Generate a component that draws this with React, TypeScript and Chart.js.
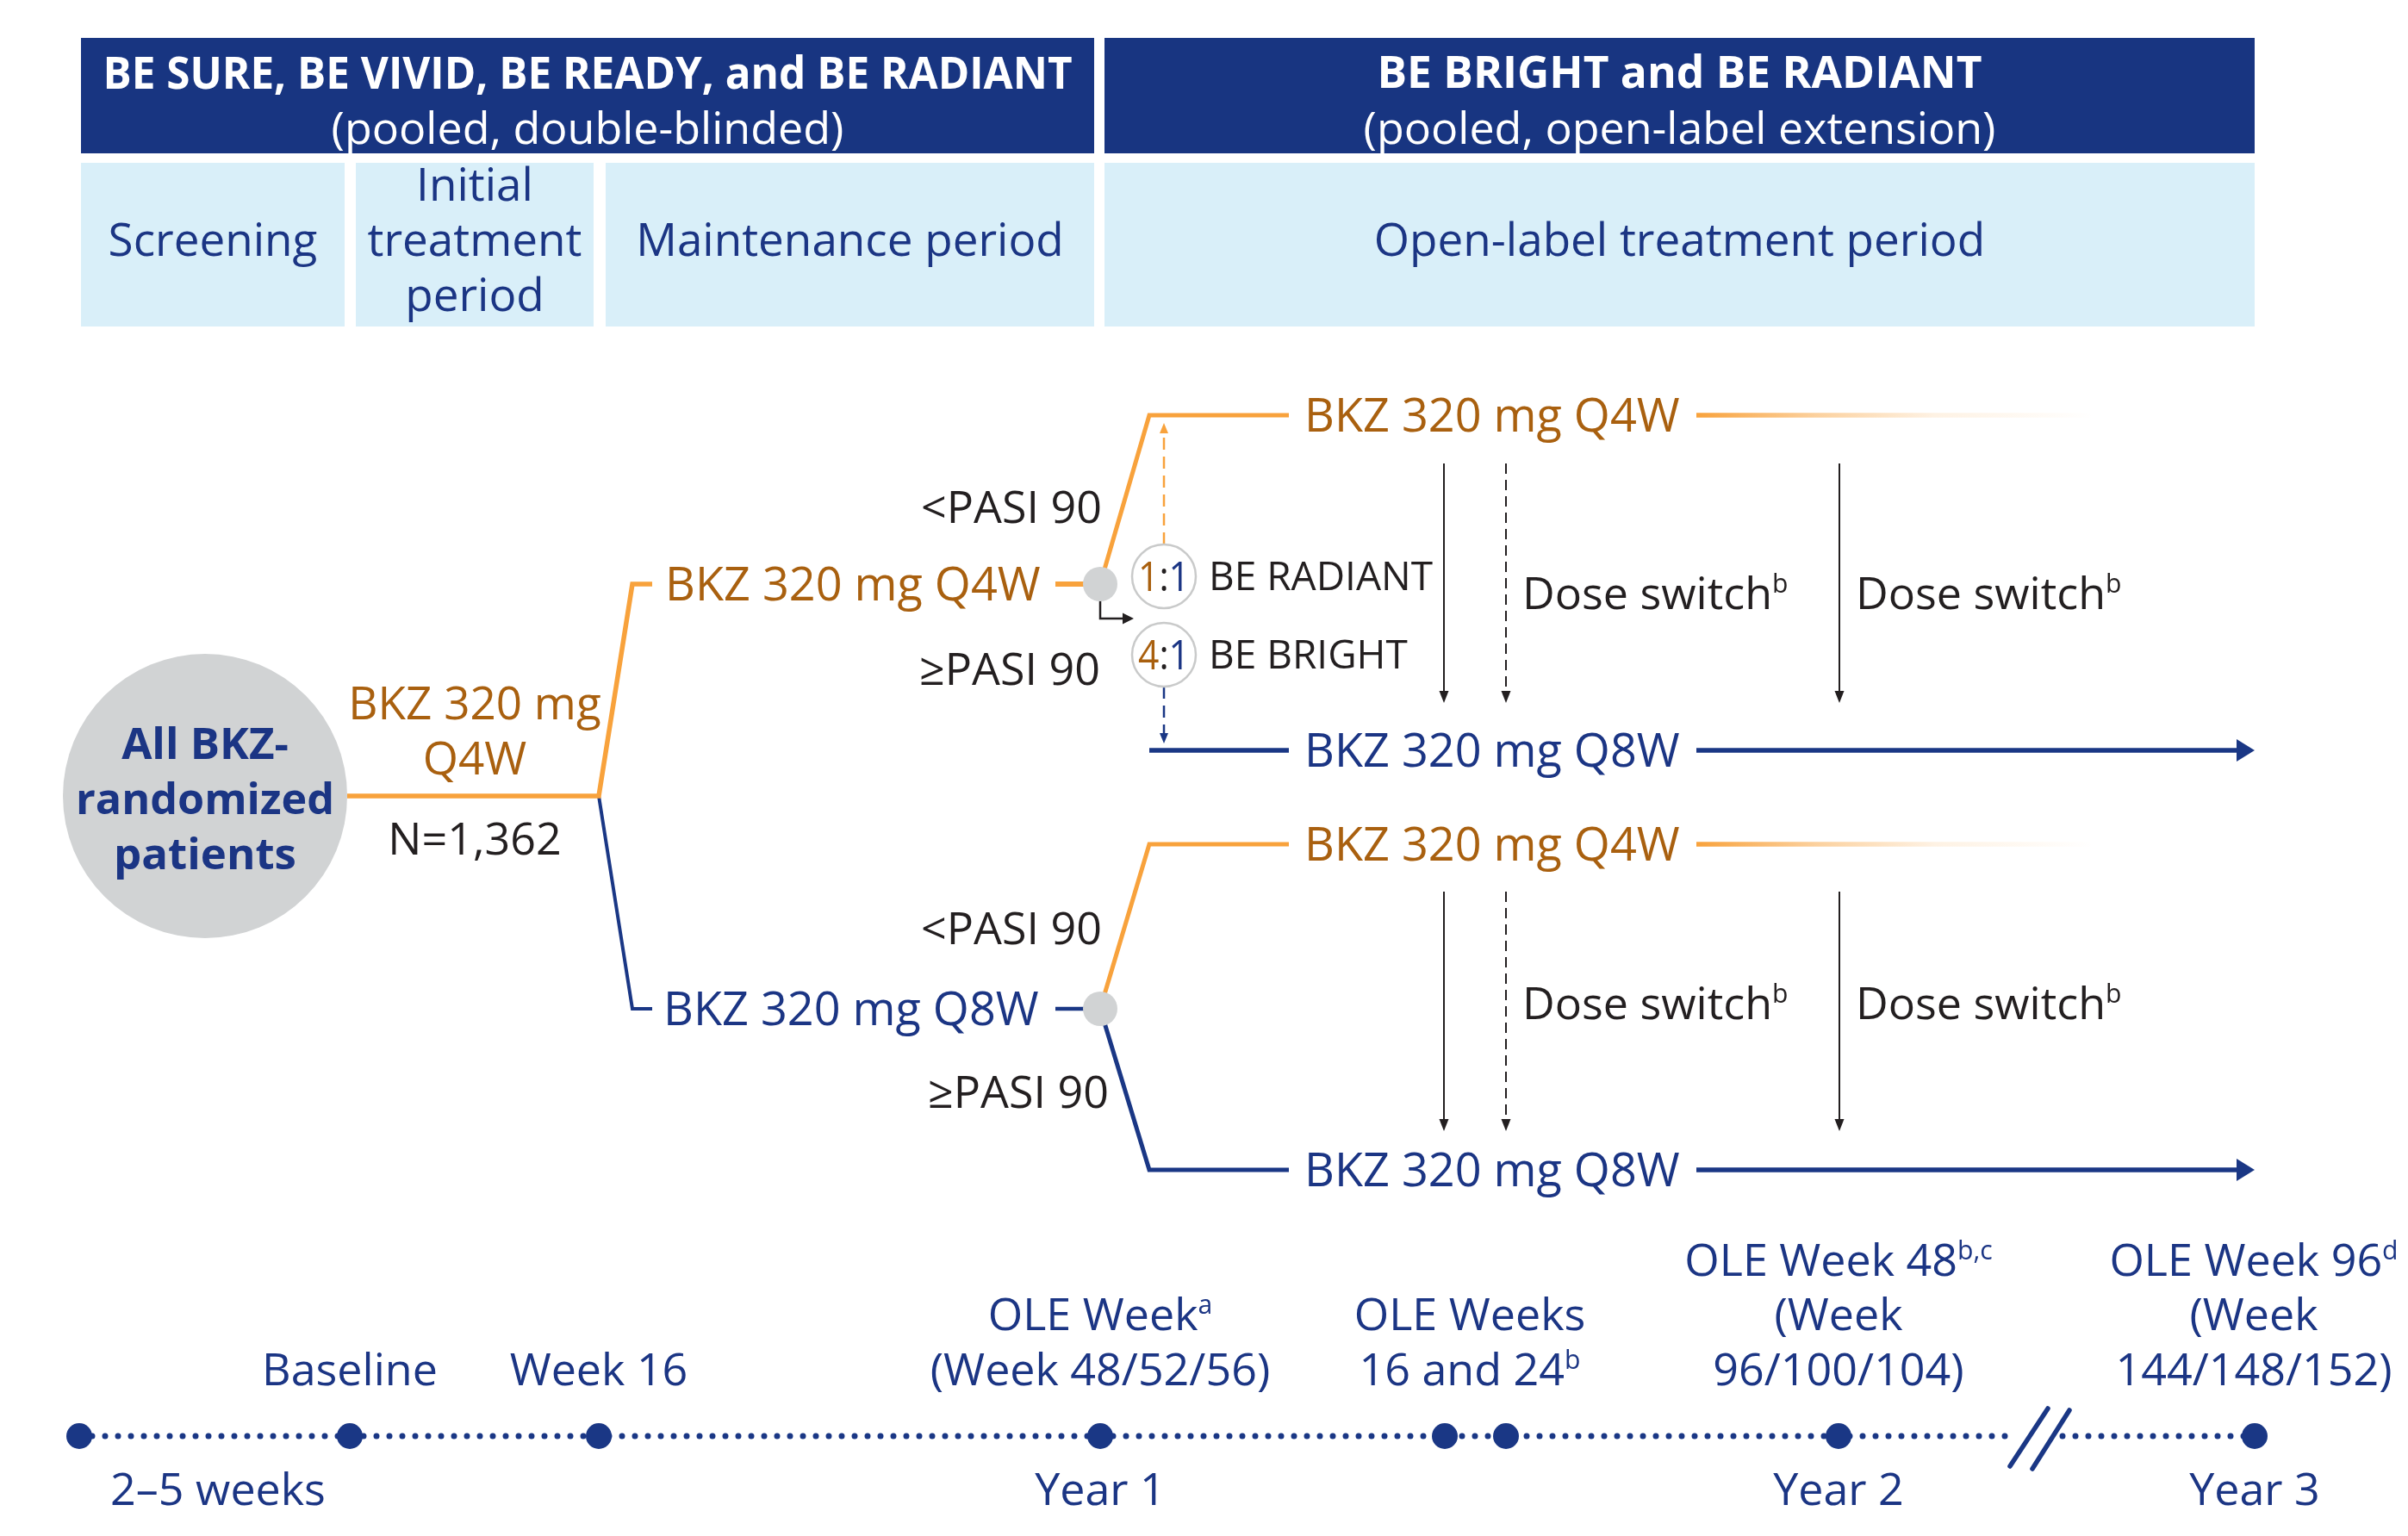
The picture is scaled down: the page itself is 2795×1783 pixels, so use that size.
import React, { useEffect, useRef } from "react";
import { Chart, registerables } from "chart.js";

Chart.register(...registerables);

const CANVAS_W = 2795;
const CANVAS_H = 1783;

// ---------------- text content ----------------
const studyTitles = ["BE SURE, BE VIVID, BE READY, and BE RADIANT", "BE BRIGHT and BE RADIANT"];
const studySubtitles = ["(pooled, double-blinded)", "(pooled, open-label extension)"];
const periodNames = [["Screening"], ["Initial", "treatment", "period"], ["Maintenance period"], ["Open-label treatment period"]];
const populationLines = ["All BKZ-", "randomized", "patients"];
const inductionDose = ["BKZ 320 mg", "Q4W"];
const sampleSize = "N=1,362";
const armQ4W = "BKZ 320 mg Q4W";
const armQ8W = "BKZ 320 mg Q8W";
const responseLabels = ["<PASI 90", "≥PASI 90"];
const ratioParts = [["1", ":", "1"], ["4", ":", "1"]];
const ratioStudies = ["BE RADIANT", "BE BRIGHT"];
const doseSwitch = "Dose switch^{b}";
const milestoneAbove = [
  ["Baseline"],
  ["Week 16"],
  ["OLE Week^{a}", "(Week 48/52/56)"],
  ["OLE Weeks", "16 and 24^{b}"],
  ["OLE Week 48^{b,c}", "(Week", "96/100/104)"],
  ["OLE Week 96^{d}", "(Week", "144/148/152)"],
];
const milestoneBelow = ["2–5 weeks", "Year 1", "Year 2", "Year 3"];

// ---------------- layout (diagram units = px) ----------------
const headerCols = [[94, 1270], [1282, 2617]];
const headerRows = [44, 178];
const periodCols = [[94, 400], [413, 689], [703, 1270], [1282, 2617]];
const periodRows = [189, 379];
const timelineX = [92, 406, 695, 1277, 1677, 1748, 2134, 2617];
const timelineY = 1667;
const timelineBreak = [2330, 2394];
const aboveX = [406, 695, 1277, 1706, 2134, 2616];
const aboveRowsY = [1462, 1525, 1589];
const belowX = [253, 1277, 2134, 2617];
const belowY = 1728;

const rootCircle = { x: 238, y: 924, r: 165 };
const splitX = 695;
const armX = [734, 757];
const armY = [678, 1171]; // Q4W arm, Q8W arm
const stubX = [1225, 1277];
const nodeX = 1277;
const branchX = [1334, 1496];
const tailX = [1969, 2430, 2603];
const groupRows = [
  { q4w: 482, q8w: 871, sw: [538, 804], label: 688 },
  { q4w: 980, q8w: 1358, sw: [1035, 1301], label: 1164 },
];
const switchX = [1676, 1748, 2135];
const ratioX = 1351;
const ratioY = [669, 760];

const C = {
  navyBox: "#183581",
  lightBox: "#d9eff9",
  navyText: "#1b3584",
  navyLine: "#1a3785",
  orange: "#f8a23c",
  orangeText: "#a9600f",
  dark: "#231f20",
  gray: "#d1d3d4",
  ring: "#c9caca",
};
const FONT = '"Open Sans", "Noto Sans", sans-serif';

type Seg = { t: string; sup?: boolean; color: string };

function parseRich(s: string, color: string): Seg[] {
  const out: Seg[] = [];
  const re = /\^\{([^}]*)\}/g;
  let last = 0;
  let m: RegExpExecArray | null;
  while ((m = re.exec(s))) {
    if (m.index > last) out.push({ t: s.slice(last, m.index), color });
    out.push({ t: m[1], sup: true, color });
    last = re.lastIndex;
  }
  if (last < s.length) out.push({ t: s.slice(last), color });
  return out;
}

function drawRich(
  ctx: CanvasRenderingContext2D,
  segs: Seg[],
  x: number,
  yCenter: number,
  size: number,
  weight: number,
  align: "left" | "center" | "right",
  maxWidth?: number
) {
  const font = (sz: number) => `${weight} ${sz}px ${FONT}`;
  const supSize = size * 0.58;
  const widths = segs.map((s) => {
    ctx.font = font(s.sup ? supSize : size);
    return ctx.measureText(s.t).width;
  });
  const total = widths.reduce((a, b) => a + b, 0);
  const sx = maxWidth && total > maxWidth ? maxWidth / total : 1;
  const tw = total * sx;
  const x0 = align === "left" ? x : align === "right" ? x - tw : x - tw / 2;
  const base = yCenter + size * 0.357;
  ctx.save();
  ctx.textBaseline = "alphabetic";
  ctx.textAlign = "left";
  ctx.translate(x0, 0);
  ctx.scale(sx, 1);
  let cx = 0;
  segs.forEach((s, i) => {
    ctx.font = font(s.sup ? supSize : size);
    ctx.fillStyle = s.color;
    ctx.fillText(s.t, cx, s.sup ? base - size * 0.36 : base);
    cx += widths[i];
  });
  ctx.restore();
}

const pt = (x: number, y: number) => ({ x, y });

function lineDs(points: { x: number; y: number }[], color: any, width: number, extra: any = {}) {
  return {
    data: points,
    showLine: true,
    borderColor: color,
    backgroundColor: "rgba(0,0,0,0)",
    borderWidth: width,
    pointRadius: 0,
    pointHoverRadius: 0,
    fill: false,
    tension: 0,
    clip: false,
    order: 10,
    borderJoinStyle: "miter",
    ...extra,
  };
}

function dotDs(points: { x: number; y: number }[], r: number, fill: string, border: string, bw: number, order = 0) {
  return {
    data: points,
    showLine: false,
    pointRadius: r,
    pointHoverRadius: r,
    pointBackgroundColor: fill,
    pointBorderColor: border,
    pointBorderWidth: bw,
    pointStyle: "circle",
    clip: false,
    order,
  };
}

function gradientColor(c: any) {
  const chart = c.chart;
  const sx = chart.scales?.x;
  if (!sx) return C.orange;
  const x0 = sx.getPixelForValue(tailX[0]);
  const x1 = sx.getPixelForValue(tailX[1]);
  if (!Number.isFinite(x0) || !Number.isFinite(x1) || x1 <= x0) return C.orange;
  const g = chart.ctx.createLinearGradient(x0, 0, x1, 0);
  g.addColorStop(0, "rgba(248,162,60,1)");
  g.addColorStop(0.3, "rgba(248,162,60,0.5)");
  g.addColorStop(0.6, "rgba(248,162,60,0.14)");
  g.addColorStop(1, "rgba(248,162,60,0)");
  return g;
}

function buildDatasets() {
  const ds: any[] = [];
  // induction trunk
  ds.push(lineDs([pt(rootCircle.x + rootCircle.r, rootCircle.y), pt(splitX, rootCircle.y), pt(armX[0], armY[0]), pt(armX[1], armY[0])], C.orange, 5.5));
  ds.push(lineDs([pt(splitX, rootCircle.y), pt(armX[0], armY[1]), pt(armX[1], armY[1])], C.navyLine, 4));
  ds.push(lineDs([pt(stubX[0], armY[0]), pt(stubX[1], armY[0])], C.orange, 6));
  ds.push(lineDs([pt(stubX[0], armY[1]), pt(stubX[1], armY[1])], C.navyLine, 4.5));

  // group A (from Q4W arm)
  const A = groupRows[0];
  ds.push(lineDs([pt(nodeX, armY[0]), pt(branchX[0], A.q4w), pt(branchX[1], A.q4w)], C.orange, 5));
  ds.push(lineDs([pt(branchX[0], A.q8w), pt(branchX[1], A.q8w)], C.navyLine, 5.5));
  // group B (from Q8W arm)
  const B = groupRows[1];
  ds.push(lineDs([pt(nodeX, armY[1]), pt(branchX[0], B.q4w), pt(branchX[1], B.q4w)], C.orange, 5));
  ds.push(lineDs([pt(nodeX, armY[1]), pt(branchX[0], B.q8w), pt(branchX[1], B.q8w)], C.navyLine, 5));

  groupRows.forEach((g) => {
    ds.push(lineDs([pt(tailX[0], g.q8w), pt(tailX[2], g.q8w)], C.navyLine, 5.5, { arrow: { len: 21, half: 13, ahead: 14, color: C.navyLine } }));
    ds.push(lineDs([pt(tailX[0], g.q4w), pt(tailX[1], g.q4w)], gradientColor, 5.5, { borderCapStyle: "butt" }));
    switchX.forEach((sx, i) => {
      ds.push(
        lineDs([pt(sx, g.sw[0]), pt(sx, g.sw[1])], C.dark, 2, {
          borderDash: i === 1 ? [12, 7] : [],
          arrow: { len: 14, half: 5.5, ahead: 12, color: C.dark },
        })
      );
    });
  });

  // re-randomisation arrows
  ds.push(lineDs([pt(ratioX, ratioY[0] - 37), pt(ratioX, A.q4w + 18)], C.orange, 2.5, { borderDash: [14, 8], arrow: { len: 12, half: 5, ahead: 9, color: C.orange } }));
  ds.push(lineDs([pt(ratioX, ratioY[1] + 37), pt(ratioX, A.q8w - 17)], C.navyLine, 2.5, { borderDash: [14, 8], arrow: { len: 12, half: 5, ahead: 9, color: C.navyLine } }));
  ds.push(lineDs([pt(nodeX, armY[0] + 19), pt(nodeX, armY[0] + 40), pt(1306, armY[0] + 40)], C.dark, 2.5, { arrow: { len: 13, half: 6.5, ahead: 10, color: C.dark } }));

  // timeline
  ds.push(lineDs([pt(timelineX[0], timelineY), pt(timelineBreak[0], timelineY)], C.navyLine, 7, { borderDash: [0, 15], borderCapStyle: "round", order: 12 }));
  ds.push(lineDs([pt(timelineBreak[1], timelineY), pt(timelineX[timelineX.length - 1], timelineY)], C.navyLine, 7, { borderDash: [0, 15], borderCapStyle: "round", order: 12 }));
  ds.push(lineDs([pt(2333, 1702), pt(2377, 1635)], C.navyLine, 5.5, { borderCapStyle: "round" }));
  ds.push(lineDs([pt(2359, 1705), pt(2402, 1637)], C.navyLine, 5.5, { borderCapStyle: "round" }));

  // circles / nodes
  ds.push(dotDs([pt(rootCircle.x, rootCircle.y)], rootCircle.r, C.gray, C.gray, 0, 1));
  ds.push(dotDs([pt(nodeX, armY[0]), pt(nodeX, armY[1])], 20, C.gray, C.gray, 0, 0));
  ds.push(dotDs(ratioY.map((y) => pt(ratioX, y)), 37, "#ffffff", C.ring, 2.5, 0));
  ds.push(dotDs(timelineX.map((x) => pt(x, timelineY)), 15, C.navyLine, C.navyLine, 0, 0));
  return ds;
}

const diagramPlugin = {
  id: "diagram",
  beforeDraw(chart: any) {
    const ctx = chart.ctx as CanvasRenderingContext2D;
    ctx.save();
    ctx.fillStyle = "#ffffff";
    ctx.fillRect(0, 0, chart.width, chart.height);
    ctx.restore();
  },
  beforeDatasetsDraw(chart: any) {
    const ctx = chart.ctx as CanvasRenderingContext2D;
    const X = (v: number) => chart.scales.x.getPixelForValue(v);
    const Y = (v: number) => chart.scales.y.getPixelForValue(v);
    ctx.save();
    ctx.fillStyle = C.navyBox;
    headerCols.forEach(([a, b]) => ctx.fillRect(X(a), Y(headerRows[0]), X(b) - X(a), Y(headerRows[1]) - Y(headerRows[0])));
    ctx.fillStyle = C.lightBox;
    periodCols.forEach(([a, b]) => ctx.fillRect(X(a), Y(periodRows[0]), X(b) - X(a), Y(periodRows[1]) - Y(periodRows[0])));
    ctx.restore();
  },
  afterDatasetsDraw(chart: any) {
    const ctx = chart.ctx as CanvasRenderingContext2D;
    const X = (v: number) => chart.scales.x.getPixelForValue(v);
    const Y = (v: number) => chart.scales.y.getPixelForValue(v);

    // arrowheads
    chart.data.datasets.forEach((d: any, i: number) => {
      if (!d.arrow) return;
      const els = chart.getDatasetMeta(i).data;
      const p1 = els[els.length - 2];
      const p2 = els[els.length - 1];
      const dx = p2.x - p1.x;
      const dy = p2.y - p1.y;
      const L = Math.hypot(dx, dy) || 1;
      const ux = dx / L;
      const uy = dy / L;
      const tx = p2.x + ux * d.arrow.ahead;
      const ty = p2.y + uy * d.arrow.ahead;
      const bx = tx - ux * d.arrow.len;
      const by = ty - uy * d.arrow.len;
      ctx.save();
      ctx.fillStyle = d.arrow.color;
      ctx.beginPath();
      ctx.moveTo(tx, ty);
      ctx.lineTo(bx - uy * d.arrow.half, by + ux * d.arrow.half);
      ctx.lineTo(bx + uy * d.arrow.half, by - ux * d.arrow.half);
      ctx.closePath();
      ctx.fill();
      ctx.restore();
    });

    const T = (text: string, x: number, y: number, size: number, color: string, align: "left" | "center" | "right" = "center", weight = 400, maxW?: number) =>
      drawRich(ctx, parseRich(text, color), X(x), Y(y), size, weight, align, maxW);

    // headers
    const hc = headerCols.map(([a, b]) => (a + b) / 2);
    T(studyTitles[0], hc[0], 84, 52, "#ffffff", "center", 700, 1125);
    T(studyTitles[1], hc[1], 83, 52, "#ffffff", "center", 700, 702);
    T(studySubtitles[0], hc[0], 148, 52, "#ffffff", "center", 400, 602);
    T(studySubtitles[1], hc[1], 148, 52, "#ffffff", "center", 400, 745);
    periodNames.forEach((lines, i) => {
      const cx = (periodCols[i][0] + periodCols[i][1]) / 2;
      const mid = (periodRows[0] + periodRows[1]) / 2 - 6;
      lines.forEach((ln, j) => {
        T(ln, cx, mid + (j - (lines.length - 1) / 2) * 64, 53, C.navyText, "center", 400);
      });
    });

    // root population
    populationLines.forEach((ln, j) => T(ln, rootCircle.x, 863 + j * 64, 51, C.navyText, "center", 700, 300));
    inductionDose.forEach((ln, j) => T(ln, 551, 816 + j * 64, 53, C.orangeText));
    T(sampleSize, 551, 973, 52, C.dark);

    // arms
    T(armQ4W, 772, armY[0], 54, C.orangeText, "left");
    T(armQ8W, 770, armY[1], 54, C.navyText, "left");

    // responses
    T(responseLabels[0], 1279, 588, 52, C.dark, "right");
    T(responseLabels[1], 1277, 776, 52, C.dark, "right");
    T(responseLabels[0], 1279, 1077, 52, C.dark, "right");
    T(responseLabels[1], 1287, 1267, 52, C.dark, "right");

    // ratios
    ratioParts.forEach((parts, i) => {
      const segs: Seg[] = [
        { t: parts[0], color: C.orangeText },
        { t: parts[1], color: C.dark },
        { t: parts[2], color: C.navyText },
      ];
      drawRich(ctx, segs, X(ratioX), Y(ratioY[i]), 48, 400, "center", 60);
      T(ratioStudies[i], 1403, ratioY[i], 46, C.dark, "left");
    });

    // OLE arms
    groupRows.forEach((g) => {
      T(armQ4W, 1514, g.q4w, 54, C.orangeText, "left");
      T(armQ8W, 1514, g.q8w, 54, C.navyText, "left");
      T(doseSwitch, 1767, g.label, 52, C.dark, "left");
      T(doseSwitch, 2154, g.label, 52, C.dark, "left");
    });

    // timeline labels
    milestoneAbove.forEach((lines, i) => {
      const start = aboveRowsY.length - lines.length;
      lines.forEach((ln, j) => T(ln, aboveX[i], aboveRowsY[start + j], 52, C.navyText));
    });
    milestoneBelow.forEach((ln, i) => T(ln, belowX[i], belowY, 52, C.navyText));
  },
};

export default function App() {
  const ref = useRef<HTMLCanvasElement | null>(null);
  useEffect(() => {
    document.body.style.margin = "0";
    const canvas = ref.current;
    if (!canvas) return;
    const chart = new Chart(canvas, {
      type: "scatter",
      data: { datasets: buildDatasets() as any },
      options: {
        animation: false,
        responsive: false,
        devicePixelRatio: 1,
        events: [],
        layout: { padding: 0, autoPadding: false },
        plugins: { legend: { display: false }, tooltip: { enabled: false } },
        scales: {
          x: { type: "linear", min: 0, max: CANVAS_W, display: false, offset: false },
          y: { type: "linear", min: 0, max: CANVAS_H, reverse: true, display: false, offset: false },
        },
      } as any,
      plugins: [diagramPlugin as any],
    });
    return () => chart.destroy();
  }, []);
  return (
    <div style={{ width: CANVAS_W, height: CANVAS_H, overflow: "hidden" }}>
      <canvas ref={ref} width={CANVAS_W} height={CANVAS_H} style={{ display: "block", width: CANVAS_W, height: CANVAS_H }} />
    </div>
  );
}
